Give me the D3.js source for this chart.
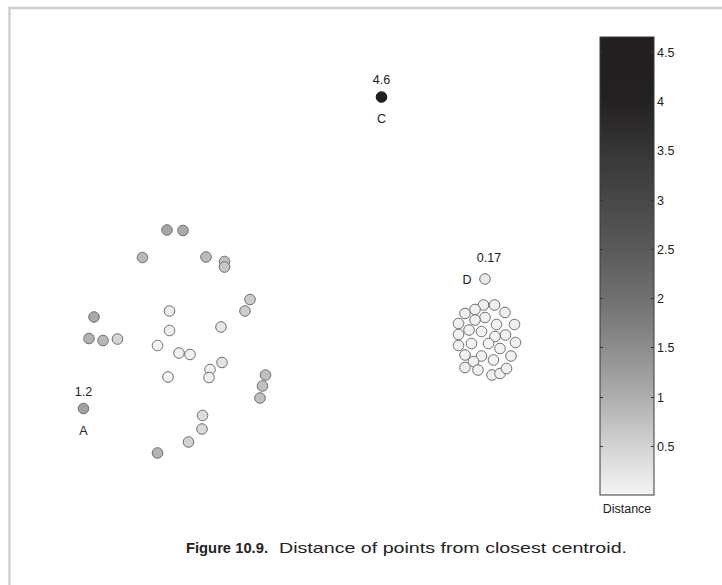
<!DOCTYPE html>
<html>
<head>
<meta charset="utf-8">
<script src="https://cdn.jsdelivr.net/npm/d3@7"></script>
<style>
  html, body { margin: 0; padding: 0; background: #fff; }
  svg { display: block; font-family: "Liberation Sans", Arial, Helvetica, sans-serif; }
</style>
</head>
<body>
<svg id="chart" width="722" height="585"></svg>
<script>
// --- Data (x, y in plot units; d = distance from closest centroid) ---
const looseCluster = [
  [11.7, 27.0, 1.1], [13.3, 26.95, 1.05], [9.25, 24.25, 0.85], [15.6, 24.3, 0.8],
  [17.45, 23.85, 0.75], [17.45, 23.3, 0.65], [20.0, 20.05, 0.6], [19.5, 18.9, 0.55],
  [4.4, 18.3, 1.05], [11.95, 18.9, 0.15], [3.9, 16.15, 0.95], [5.3, 15.95, 0.85],
  [6.75, 16.1, 0.45], [11.95, 16.95, 0.1], [17.1, 17.3, 0.2], [10.75, 15.45, 0.03],
  [12.9, 14.7, 0.06], [14.0, 14.55, 0.06], [17.2, 13.75, 0.25], [16.0, 13.05, 0.06],
  [15.9, 12.25, 0.06], [11.8, 12.3, 0.03], [21.55, 12.5, 0.75], [21.25, 11.4, 0.75],
  [21.0, 10.2, 0.75], [15.25, 8.45, 0.35], [15.2, 7.1, 0.4], [13.85, 5.8, 0.5],
  [10.75, 4.7, 0.9]
];

const tightCluster = [
  [43.35, 19.5, 0.06], [44.45, 19.5, 0.06], [42.5, 19.05, 0.05], [41.5, 18.65, 0.06],
  [45.5, 18.75, 0.06], [43.5, 18.25, 0.04], [42.5, 18.0, 0.04], [40.85, 17.65, 0.06],
  [44.65, 17.55, 0.04], [46.45, 17.55, 0.07], [41.9, 17.0, 0.04], [43.15, 16.85, 0.02],
  [40.85, 16.55, 0.06], [44.5, 16.35, 0.02], [45.55, 16.5, 0.05], [42.15, 15.65, 0.03],
  [43.85, 15.65, 0.02], [46.55, 15.75, 0.07], [40.85, 15.45, 0.06], [45.0, 15.15, 0.03],
  [41.5, 14.5, 0.05], [43.15, 14.4, 0.03], [44.35, 14.0, 0.04], [46.1, 14.4, 0.06],
  [42.35, 13.85, 0.05], [41.5, 13.25, 0.06], [42.8, 13.0, 0.05], [44.2, 12.5, 0.06],
  [45.0, 12.65, 0.06], [45.65, 13.15, 0.06]
];

// labelled points: name, x, y, distance, value text, label placement
const labelled = [
  { name: "A", x: 3.35, y: 9.15, d: 1.2, value: "1.2", place: "below" },
  { name: "C", x: 33.15, y: 40.3, d: 4.6, value: "4.6", place: "below" },
  { name: "D", x: 43.5, y: 22.1, d: 0.17, value: "0.17", place: "left" }
];

const colorbarTicks = [0.5, 1, 1.5, 2, 2.5, 3, 3.5, 4, 4.5];
const colorbarMax = 4.65;
// grey colormap
const colorStopValues = [0, 0.5, 1, 1.5, 2, 2.5, 3, 3.5, 4, 4.65];
const colorStopColors = ["#f4f4f4", "#d2d2d2", "#adadad", "#8c8c8c", "#707070",
                         "#5a5a5a", "#474747", "#363636", "#242122", "#231f20"];

const captionBold = "Figure 10.9.";
const captionText = "Distance of points from closest centroid.";

// --- Setup ---
const svg = d3.select("#chart");

// page frame
svg.append("path")
  .attr("d", "M9.5,585V8H722")
  .attr("fill", "none")
  .attr("stroke", "#cfcfcf")
  .attr("stroke-width", 2.5);

const x = d3.scaleLinear().domain([0, 50]).range([50, 550]);
const y = d3.scaleLinear().domain([0, 50]).range([500, 0]);
const color = d3.scaleLinear().domain(colorStopValues).range(colorStopColors).clamp(true);

const R = 5.3;
const pts = looseCluster.concat(tightCluster).map((p) => ({ x: p[0], y: p[1], d: p[2] }));

const g = svg.append("g");

g.selectAll("circle.pt")
  .data(pts.concat(labelled))
  .join("circle")
  .attr("class", "pt")
  .attr("cx", (d) => x(d.x))
  .attr("cy", (d) => y(d.y))
  .attr("r", R)
  .attr("fill", (d) => color(d.d))
  .attr("stroke", (d) => d.d > 3 ? "#1a1a1a" : "#707070")
  .attr("stroke-width", 1);

// labels for A, C, D
labelled.forEach((p) => {
  const cx = x(p.x), cy = y(p.y);
  if (p.place === "below") {
    g.append("text").attr("x", cx).attr("y", cy - 13).attr("text-anchor", "middle")
      .attr("font-size", 12.5).attr("fill", "#222").text(p.value);
    g.append("text").attr("x", cx).attr("y", cy + 26).attr("text-anchor", "middle")
      .attr("font-size", 12.5).attr("fill", "#222").text(p.name);
  } else {
    g.append("text").attr("x", cx + 4).attr("y", cy - 17).attr("text-anchor", "middle")
      .attr("font-size", 12.5).attr("fill", "#222").text(p.value);
    g.append("text").attr("x", cx - 18).attr("y", cy + 4.5).attr("text-anchor", "middle")
      .attr("font-size", 12.5).attr("fill", "#222").text(p.name);
  }
});

// --- Colorbar ---
const cbX = 600, cbW = 54;
const cbY = d3.scaleLinear().domain([0, colorbarMax]).range([495, 37]);

const grad = svg.append("defs").append("linearGradient")
  .attr("id", "cbgrad").attr("x1", 0).attr("y1", 1).attr("x2", 0).attr("y2", 0);
grad.selectAll("stop")
  .data(colorStopValues)
  .join("stop")
  .attr("offset", (v) => v / colorbarMax)
  .attr("stop-color", (v) => color(v));

svg.append("rect")
  .attr("x", cbX).attr("y", cbY(colorbarMax))
  .attr("width", cbW).attr("height", cbY(0) - cbY(colorbarMax))
  .attr("fill", "url(#cbgrad)")
  .attr("stroke", "#3a3a3a").attr("stroke-width", 1);

const tk = svg.append("g");
colorbarTicks.forEach((v) => {
  const ty = Math.round(cbY(v)) + 0.5;
  tk.append("line").attr("x1", cbX).attr("x2", cbX + 3).attr("y1", ty).attr("y2", ty)
    .attr("stroke", "#333");
  tk.append("line").attr("x1", cbX + cbW - 3).attr("x2", cbX + cbW).attr("y1", ty).attr("y2", ty)
    .attr("stroke", "#333");
  tk.append("text").attr("x", cbX + cbW + 3).attr("y", ty + 4.5)
    .attr("font-size", 12.5).attr("fill", "#222").text(v);
});

svg.append("text")
  .attr("x", cbX + cbW / 2).attr("y", 513)
  .attr("text-anchor", "middle")
  .attr("font-size", 12.5).attr("fill", "#222")
  .text("Distance");

// --- Caption ---
svg.append("text")
  .attr("x", 186).attr("y", 553)
  .attr("font-size", 15).attr("font-weight", "bold").attr("fill", "#222")
  .attr("textLength", 82).attr("lengthAdjust", "spacingAndGlyphs")
  .text(captionBold);
svg.append("text")
  .attr("x", 279).attr("y", 553)
  .attr("font-size", 15).attr("fill", "#222")
  .attr("textLength", 348).attr("lengthAdjust", "spacingAndGlyphs")
  .text(captionText);
</script>
</body>
</html>
